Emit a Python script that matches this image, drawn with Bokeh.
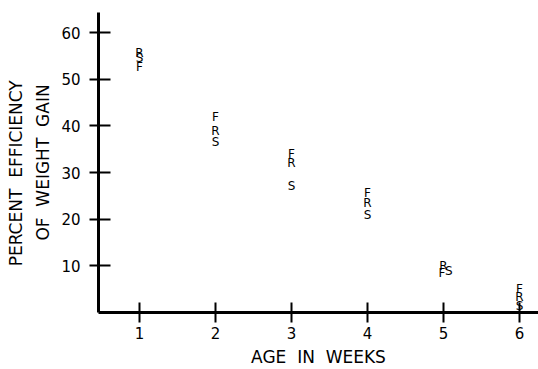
from bokeh.plotting import figure
from bokeh.models import FixedTicker, LinearAxis, Range1d
from bokeh.core.properties import value
from bokeh.embed import file_html
from bokeh.resources import INLINE

# ---- data ----
x_ticks = [1, 2, 3, 4, 5, 6]
y_ticks = [10, 20, 30, 40, 50, 60]

f_weeks = [1, 2, 3, 4, 4.98, 6]
f_vals = [52.6, 41.9, 33.9, 25.6, 8.5, 5.1]

r_weeks = [1, 2, 3, 4, 5.0, 6]
r_vals = [55.7, 38.9, 32.0, 23.5, 10.0, 3.3]

s_weeks = [1, 2, 3, 4, 5.07, 6]
s_vals = [54.5, 36.5, 27.1, 20.9, 8.9, 1.4]

x_title = "AGE\u00a0 IN\u00a0 WEEKS"
y_title_1 = "PERCENT\u00a0 EFFICIENCY\u00a0\u00a0\u00a0\u00a0"
y_title_2 = "OF\u00a0 WEIGHT\u00a0 GAIN"

FONT = "DejaVu Sans"

p = figure(width=538, height=369, output_backend="svg", toolbar_location=None,
           x_range=Range1d(0.4605, 6.25), y_range=Range1d(0, 64.3),
           min_border_left=98, min_border_right=0, min_border_top=12,
           min_border_bottom=56)
p.outline_line_color = None
p.grid.visible = False
p.background_fill_color = "white"
p.border_fill_color = "white"

for ax in (p.xaxis, p.yaxis):
    ax.axis_line_width = 3
    ax.axis_line_color = "black"
    ax.major_tick_line_width = 2
    ax.major_tick_line_color = "black"
    ax.minor_tick_line_color = None
    ax.major_label_text_font = FONT
    ax.major_label_text_font_size = "15px"
    ax.major_label_text_color = "black"
    ax.axis_label_text_font = FONT
    ax.axis_label_text_font_size = "17px"
    ax.axis_label_text_font_style = "normal"
    ax.axis_label_text_color = "black"

p.xaxis.ticker = FixedTicker(ticks=x_ticks)
p.yaxis.ticker = FixedTicker(ticks=y_ticks)
p.xaxis.major_tick_in = 10
p.xaxis.major_tick_out = 10
p.yaxis.major_tick_in = 12
p.yaxis.major_tick_out = 9
p.xaxis.major_label_standoff = 4
p.yaxis.major_label_standoff = 9

p.xaxis.axis_label = x_title
p.xaxis.axis_label_standoff = 5
p.yaxis.axis_label = y_title_2
p.yaxis.axis_label_standoff = 5

# outer left axis that only carries the first line of the y title
outer = LinearAxis(ticker=FixedTicker(ticks=[]), axis_label=y_title_1,
                   axis_line_color=None, major_tick_line_color=None,
                   minor_tick_line_color=None, major_tick_in=0, major_tick_out=0,
                   major_label_standoff=0, axis_label_standoff=5,
                   axis_label_text_font=FONT, axis_label_text_font_size="17px",
                   axis_label_text_font_style="normal", axis_label_text_color="black")
p.add_layout(outer, "left")

for xs, ys, letter in ((f_weeks, f_vals, "F"), (r_weeks, r_vals, "R"), (s_weeks, s_vals, "S")):
    p.text(x=xs, y=ys, text=[letter] * len(xs), text_font=value(FONT),
           text_font_size="12px", text_color="black",
           text_align="center", text_baseline="middle")

open("out.html", "w").write(file_html(p, INLINE))
